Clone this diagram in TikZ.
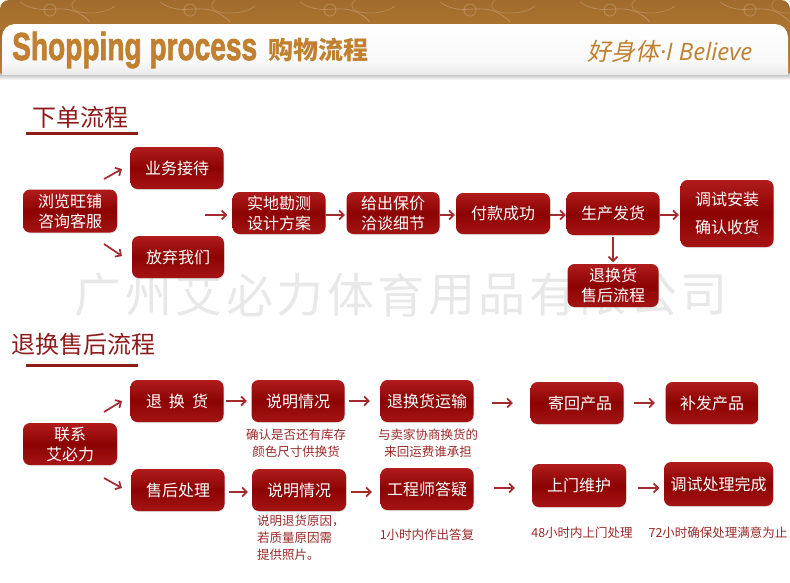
\documentclass[tikz,border=0pt]{standalone}
\usepackage{fontspec}
\newfontfamily\cjk{Noto Sans CJK SC}
\newfontfamily\cjkit[FakeSlant=0.2]{Noto Sans CJK SC}
\newfontfamily\latit{Open Sans}
\newfontfamily\hdrfont[FakeBold=2.2]{Liberation Sans Bold}
\usetikzlibrary{arrows.meta,shadows}
\definecolor{hdrorange}{HTML}{BC7E34}
\definecolor{hdrtext}{HTML}{C0802F}
\definecolor{titlered}{HTML}{8E1B1B}
\definecolor{notered}{HTML}{9A2A2A}
\definecolor{boxtop}{HTML}{B01C1C}
\definecolor{boxmid}{HTML}{8C0303}
\definecolor{boxbot}{HTML}{A51414}
\definecolor{arrowred}{HTML}{A32A2E}
\definecolor{wmgray}{HTML}{E8E8E8}
\begin{document}
\begin{tikzpicture}[x=1pt,y=-1pt,
  box/.style={rounded corners=7pt, inner sep=0pt, minimum width=93pt, minimum height=42pt,
    text=white, align=center, font=\cjk\fontsize{16}{20}\selectfont,
    top color=boxtop, bottom color=boxbot, middle color=boxmid,
    drop shadow={shadow xshift=0.8pt, shadow yshift=-1pt, opacity=0.2}},
  note/.style={text=notered, align=center, font=\cjk\fontsize{12.5}{17}\selectfont, inner sep=0pt},
  arr/.style={draw=arrowred, line width=1.7pt, -{Straight Barb[length=4.5pt,width=9pt]}},
  sectitle/.style={text=titlered, font=\cjk\fontsize{24}{24}\selectfont, inner sep=0pt},
  wm/.style={text=wmgray, font=\cjk\fontsize{47}{47}\selectfont, inner sep=0pt}]
\useasboundingbox (0,0) rectangle (790,582);
\fill[white] (0,0) rectangle (790,582);

% ---------- header ----------
\shade[top color=hdrorange!85!black, bottom color=hdrorange, rounded corners=9pt] (0,0) rectangle (790,60);
\shade[top color=hdrorange!85!black, bottom color=hdrorange] (0,30) rectangle (790,74);
\foreach \x in {20,160,300,440,580,720}{
  \draw[white, opacity=0.22, line width=0.8pt] (\x,2) .. controls (\x+25,20) and (\x+45,-4) .. (\x+70,22);
  \draw[white, opacity=0.22, line width=0.8pt] (\x+30,10) circle (6pt);
  \draw[white, opacity=0.18, line width=0.8pt] (\x+55,0) .. controls (\x+40,14) and (\x+80,18) .. (\x+95,6);
}
\shade[top color=gray!60, bottom color=white] (0,73) rectangle (790,80);
\begin{scope}
  \clip (0,0) rectangle (790,74);
  \shade[top color=white, bottom color=gray!40, middle color=white!95!gray, rounded corners=13pt] (2,24) rectangle (788,100);
\end{scope}
\node[anchor=base west, text=hdrtext, inner sep=0pt] (hdr1) at (12,60)
  {\scalebox{0.72}[1]{\hdrfont\fontsize{39}{39}\selectfont Shopping process}};
\node[anchor=base west, text=hdrtext, inner sep=0pt] (hdr2) at (268,59)
  {\cjk\bfseries\fontsize{25}{25}\selectfont 购物流程};
\node[anchor=base west, text=hdrtext, inner sep=0pt] (hdr3) at (587,60)
  {\cjkit\fontsize{24}{24}\selectfont 好身体\latit\itshape\fontsize{24}{24}\selectfont\kern1pt·I Believe};

% ---------- watermark ----------
\foreach \c [count=\i from 0] in {广,州,艾,必,力,体,育,用,品,有,限,公,司}
  \node[wm] (wm\i) at ({98.2+\i*50.5},295) {\c};

% ---------- section 1 ----------
\node[sectitle] (t1) at (80,117) {下单流程};
\draw[titlered, line width=3pt] (26,133) -- (138,133);

\node[box, minimum width=94pt, minimum height=43pt] (a1) at (70,211) {浏览旺铺\\咨询客服};
\node[box] (a2) at (177,168) {业务接待};
\node[box, minimum width=92pt] (a3) at (178,257) {放弃我们};
\node[box] (a4) at (279,213) {实地勘测\\设计方案};
\node[box] (a5) at (393,213) {给出保价\\洽谈细节};
\node[box, minimum width=94pt, minimum height=41pt] (a6) at (503,213.5) {付款成功};
\node[box, minimum height=43pt] (a7) at (613,213.5) {生产发货};
\node[box, minimum height=67pt] (a8) at (727,213.5) {调试安装\\[8pt]确认收货};
\node[box, minimum width=91pt, minimum height=43pt] (a9) at (613,285.5) {退换货\\售后流程};

\coordinate (s1) at (104,179);
\coordinate (e1) at (122,169);
\coordinate (s2) at (104,244);
\coordinate (e2) at (122,256);
\coordinate (s3) at (205,215);
\draw[arr] (s1) -- (e1);
\draw[arr] (s2) -- (e2);
\draw[arr, shorten >=5pt] (s3) -- (s3 -| a4.west);
\draw[arr, shorten >=1.5pt] (a4.east |- 0,215) -- (a5.west |- 0,215);
\draw[arr, shorten <=0.5pt, shorten >=1pt] (a5.east |- 0,215) -- (a6.west |- 0,215);
\draw[arr, shorten >=0.5pt] (a6.east |- 0,215) -- (a7.west |- 0,215);
\draw[arr, shorten <=0.5pt, shorten >=1.5pt] (a7.east |- 0,215) -- (a8.west |- 0,215);
\draw[arr, shorten <=1.5pt, shorten >=1.5pt] (a7.south) -- (a9.north);

% ---------- section 2 ----------
\node[sectitle] (t2) at (84,344) {退换售后流程};
\draw[titlered, line width=3pt] (26,365) -- (138,365);

\node[box, minimum width=94pt] (b1) at (70,444) {联系\\艾必力};
\node[box] (b2) at (177,401) {退\hspace{7pt}换\hspace{7pt}货};
\node[box] (b3) at (178,490) {售后处理};
\node[box] (b4) at (298,401) {说明情况};
\node[box, minimum width=94pt] (b5) at (299,490) {说明情况};
\node[box] (b6) at (427,401) {退换货运输};
\node[box] (b7) at (427,489) {工程师答疑};
\node[box] (b8) at (577,403) {\hspace{6pt}寄回产品};
\node[box] (b9) at (712,403) {补发产品};
\node[box, minimum width=94pt, minimum height=43pt] (b10) at (579,485.5) {上门维护};
\node[box, minimum width=109pt, minimum height=44pt] (b11) at (718.5,484) {调试处理完成};

\coordinate (s4) at (104,412);
\coordinate (e4) at (122,401);
\coordinate (s5) at (104,478);
\coordinate (e5) at (122,488);
\draw[arr] (s4) -- (e4);
\draw[arr] (s5) -- (e5);
\draw[arr, shorten <=2.5pt, shorten >=4.5pt] (b2.east) -- (b2.east -| b4.west);
\draw[arr, shorten <=4.5pt, shorten >=10.5pt] (b4.east) -- (b4.east -| b6.west);
\draw[arr, shorten <=18.5pt, shorten >=17.5pt] (b6.east |- 0,403) -- (b8.west);
\draw[arr, shorten <=10.5pt, shorten >=10.5pt] (b8.east) -- (b9.west);
\draw[arr, shorten <=4pt, shorten >=4pt] (b3.east |- 0,492) -- (b5.west |- 0,492);
\draw[arr, shorten <=5pt, shorten >=8.5pt] (b5.east |- 0,492) -- (b7.west |- 0,492);
\draw[arr, shorten <=20.5pt, shorten >=17pt] (b7.east |- 0,488) -- (b10.west |- 0,488);
\draw[arr, shorten <=12pt, shorten >=4.5pt] (b10.east |- 0,488) -- (b11.west |- 0,488);

\node[note] (n1) at (296,443.5) {确认是否还有库存\\颜色尺寸供换货};
\node[note] (n2) at (428,443.5) {与卖家协商换货的\\来回运费谁承担};
\node[note, align=left, anchor=north west] (n3) at (257,515) {说明退货原因，\\若质量原因需\\提供照片。};
\node[note] (n4) at (427,535) {1小时内作出答复};
\node[note] (n5) at (582,533) {48小时内上门处理};
\node[note] (n6) at (718,533) {72小时确保处理满意为止};
\end{tikzpicture}
\end{document}
